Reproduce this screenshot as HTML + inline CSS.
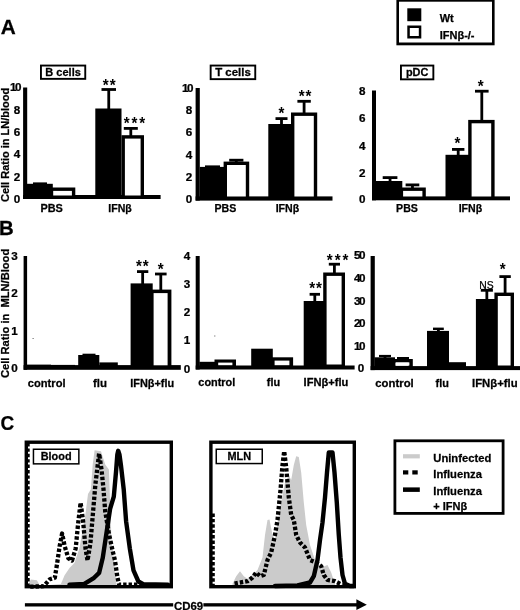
<!DOCTYPE html>
<html><head><meta charset="utf-8"><title>Figure</title>
<style>
html,body{margin:0;padding:0;background:#fff;}
body{width:520px;height:610px;overflow:hidden;}
svg{display:block;font-family:"Liberation Sans", sans-serif;filter:blur(0.45px);}
text{stroke:#000;stroke-width:0.25px;}
text.st{stroke:none;}
</style></head><body>
<svg width="520" height="610" viewBox="0 0 520 610">
<rect x="0" y="0" width="520" height="610" fill="#fff"/>
<text transform="translate(0.70,34.00) scale(1.03,1)" font-size="20.2" font-weight="bold" text-anchor="start" fill="#000">A</text>
<text transform="translate(-1.10,235.00) scale(1.02,1)" font-size="20" font-weight="bold" text-anchor="start" fill="#000">B</text>
<text transform="translate(0.60,430.00) scale(0.94,1)" font-size="20.2" font-weight="bold" text-anchor="start" fill="#000">C</text>
<rect x="396.40" y="-1.00" width="98.20" height="46.30" fill="#000" />
<rect x="399.00" y="1.70" width="93.00" height="40.80" fill="#fff" />
<rect x="407.30" y="8.30" width="14.00" height="12.90" fill="#000" />
<rect x="407.30" y="25.50" width="14.00" height="13.00" fill="#000" />
<rect x="409.80" y="28.00" width="9.00" height="8.00" fill="#fff" />
<text transform="translate(439.70,22.00) scale(1.0,1)" font-size="11" font-weight="bold" text-anchor="start" fill="#000">Wt</text>
<text transform="translate(439.70,39.00) scale(1.0,1)" font-size="11" font-weight="bold" text-anchor="start" fill="#000">IFNβ-/-</text>
<rect x="40.00" y="64.60" width="46.20" height="15.20" fill="#000" />
<rect x="41.90" y="66.50" width="42.40" height="11.40" fill="#fff" />
<text transform="translate(63.10,76.00) scale(1.04,1)" font-size="10.6" font-weight="bold" text-anchor="middle" fill="#000">B cells</text>
<rect x="209.70" y="64.60" width="46.50" height="15.50" fill="#000" />
<rect x="211.60" y="66.50" width="42.70" height="11.70" fill="#fff" />
<text transform="translate(232.95,76.00) scale(1.08,1)" font-size="10.6" font-weight="bold" text-anchor="middle" fill="#000">T cells</text>
<rect x="400.00" y="64.60" width="34.30" height="15.70" fill="#000" />
<rect x="401.90" y="66.50" width="30.50" height="11.90" fill="#fff" />
<text transform="translate(417.15,76.00) scale(1.03,1)" font-size="10.6" font-weight="bold" text-anchor="middle" fill="#000">pDC</text>
<text transform="translate(9.00,202.00) rotate(-90) scale(1.0,1)" font-size="11" font-weight="bold" text-anchor="start" fill="#000">Cell Ratio in LN/blood</text>
<text transform="translate(9.00,378.00) rotate(-90) scale(0.995,1)" font-size="11.2" font-weight="bold" text-anchor="start" fill="#000">Cell Ratio in&#160; MLN/Blood</text>
<rect x="23.10" y="87.50" width="4.10" height="111.50" fill="#000" />
<rect x="23.10" y="195.00" width="137.50" height="4.00" fill="#000" />
<text transform="translate(21.50,91) scale(1.1,1)" font-size="10.6" font-weight="bold" text-anchor="end"><tspan>1</tspan><tspan dx="-1.3">0</tspan></text>
<text transform="translate(20.30,114.00) scale(1.1,1)" font-size="10.6" font-weight="bold" text-anchor="end" fill="#000">8</text>
<text transform="translate(20.30,136.00) scale(1.1,1)" font-size="10.6" font-weight="bold" text-anchor="end" fill="#000">6</text>
<text transform="translate(20.30,158.00) scale(1.1,1)" font-size="10.6" font-weight="bold" text-anchor="end" fill="#000">4</text>
<text transform="translate(20.30,181.00) scale(1.1,1)" font-size="10.6" font-weight="bold" text-anchor="end" fill="#000">2</text>
<text transform="translate(20.30,203.00) scale(1.1,1)" font-size="10.6" font-weight="bold" text-anchor="end" fill="#000">0</text>
<rect x="38.60" y="183.20" width="2.80" height="1.60" fill="#000" />
<rect x="33.00" y="182.40" width="14.00" height="1.60" fill="#000" />
<rect x="27.00" y="183.80" width="25.80" height="13.20" fill="#000" />
<rect x="49.80" y="187.50" width="25.50" height="9.50" fill="#000" />
<rect x="53.20" y="190.90" width="18.70" height="4.60" fill="#fff" />
<rect x="107.35" y="89.50" width="2.80" height="20.00" fill="#000" />
<rect x="101.50" y="88.10" width="14.50" height="2.80" fill="#000" />
<rect x="95.30" y="108.50" width="26.20" height="88.50" fill="#000" />
<rect x="129.40" y="128.40" width="2.80" height="7.80" fill="#000" />
<rect x="123.80" y="127.00" width="14.00" height="2.80" fill="#000" />
<rect x="121.50" y="135.20" width="22.50" height="61.80" fill="#000" />
<rect x="124.90" y="138.60" width="15.70" height="56.90" fill="#fff" />
<text class="st" transform="translate(105.80,91.00) scale(0.95,1)" font-size="16" font-weight="bold" text-anchor="middle" fill="#000">*</text>
<text class="st" transform="translate(112.60,91.00) scale(0.95,1)" font-size="16" font-weight="bold" text-anchor="middle" fill="#000">*</text>
<text class="st" transform="translate(126.60,129.00) scale(0.95,1)" font-size="16" font-weight="bold" text-anchor="middle" fill="#000">*</text>
<text class="st" transform="translate(134.40,129.00) scale(0.95,1)" font-size="16" font-weight="bold" text-anchor="middle" fill="#000">*</text>
<text class="st" transform="translate(142.20,129.00) scale(0.95,1)" font-size="16" font-weight="bold" text-anchor="middle" fill="#000">*</text>
<text transform="translate(51.60,212.00) scale(1.03,1)" font-size="10.6" font-weight="bold" text-anchor="middle" fill="#000">PBS</text>
<text transform="translate(120.00,212.00) scale(1.0,1)" font-size="10.6" font-weight="bold" text-anchor="middle" fill="#000">IFNβ</text>
<rect x="195.60" y="88.00" width="4.20" height="112.60" fill="#000" />
<rect x="195.60" y="196.40" width="136.90" height="4.20" fill="#000" />
<text transform="translate(193.50,92) scale(1.1,1)" font-size="10.6" font-weight="bold" text-anchor="end"><tspan>1</tspan><tspan dx="-1.3">0</tspan></text>
<text transform="translate(192.30,114.00) scale(1.1,1)" font-size="10.6" font-weight="bold" text-anchor="end" fill="#000">8</text>
<text transform="translate(192.30,136.00) scale(1.1,1)" font-size="10.6" font-weight="bold" text-anchor="end" fill="#000">6</text>
<text transform="translate(192.30,159.00) scale(1.1,1)" font-size="10.6" font-weight="bold" text-anchor="end" fill="#000">4</text>
<text transform="translate(192.30,181.00) scale(1.1,1)" font-size="10.6" font-weight="bold" text-anchor="end" fill="#000">2</text>
<text transform="translate(192.30,203.00) scale(1.1,1)" font-size="10.6" font-weight="bold" text-anchor="end" fill="#000">0</text>
<rect x="211.10" y="166.20" width="2.80" height="1.70" fill="#000" />
<rect x="205.00" y="165.40" width="15.00" height="1.60" fill="#000" />
<rect x="199.80" y="166.90" width="26.20" height="31.10" fill="#000" />
<rect x="234.90" y="160.20" width="2.80" height="2.40" fill="#000" />
<rect x="229.20" y="158.80" width="14.20" height="2.80" fill="#000" />
<rect x="223.60" y="161.60" width="25.60" height="36.40" fill="#000" />
<rect x="227.00" y="165.00" width="18.80" height="31.50" fill="#fff" />
<rect x="280.10" y="118.60" width="2.80" height="6.40" fill="#000" />
<rect x="275.50" y="117.20" width="12.00" height="2.80" fill="#000" />
<rect x="268.30" y="124.00" width="25.50" height="74.00" fill="#000" />
<rect x="302.70" y="101.30" width="2.80" height="12.20" fill="#000" />
<rect x="297.40" y="99.90" width="13.40" height="2.80" fill="#000" />
<rect x="291.00" y="112.50" width="26.20" height="85.50" fill="#000" />
<rect x="294.40" y="115.90" width="19.40" height="80.60" fill="#fff" />
<text class="st" transform="translate(281.50,119.00) scale(0.95,1)" font-size="16" font-weight="bold" text-anchor="middle" fill="#000">*</text>
<text class="st" transform="translate(301.60,102.00) scale(0.95,1)" font-size="16" font-weight="bold" text-anchor="middle" fill="#000">*</text>
<text class="st" transform="translate(308.40,102.00) scale(0.95,1)" font-size="16" font-weight="bold" text-anchor="middle" fill="#000">*</text>
<text transform="translate(225.30,212.00) scale(1.0,1)" font-size="10.6" font-weight="bold" text-anchor="middle" fill="#000">PBS</text>
<text transform="translate(287.40,212.00) scale(1.0,1)" font-size="10.6" font-weight="bold" text-anchor="middle" fill="#000">IFNβ</text>
<rect x="372.00" y="90.50" width="4.00" height="109.80" fill="#000" />
<rect x="372.00" y="196.40" width="138.00" height="3.90" fill="#000" />
<text transform="translate(365.50,95.00) scale(1.1,1)" font-size="10.6" font-weight="bold" text-anchor="end" fill="#000">8</text>
<text transform="translate(365.50,122.00) scale(1.1,1)" font-size="10.6" font-weight="bold" text-anchor="end" fill="#000">6</text>
<text transform="translate(365.50,150.00) scale(1.1,1)" font-size="10.6" font-weight="bold" text-anchor="end" fill="#000">4</text>
<text transform="translate(365.50,177.00) scale(1.1,1)" font-size="10.6" font-weight="bold" text-anchor="end" fill="#000">2</text>
<text transform="translate(365.50,203.00) scale(1.1,1)" font-size="10.6" font-weight="bold" text-anchor="end" fill="#000">0</text>
<rect x="388.65" y="177.60" width="2.80" height="4.40" fill="#000" />
<rect x="382.70" y="176.20" width="14.70" height="2.80" fill="#000" />
<rect x="376.00" y="181.00" width="26.30" height="17.00" fill="#000" />
<rect x="411.05" y="184.90" width="2.80" height="3.60" fill="#000" />
<rect x="405.60" y="183.50" width="13.70" height="2.80" fill="#000" />
<rect x="399.70" y="187.50" width="26.10" height="10.50" fill="#000" />
<rect x="403.10" y="190.90" width="19.30" height="5.60" fill="#fff" />
<rect x="456.80" y="149.40" width="2.80" height="6.40" fill="#000" />
<rect x="452.00" y="148.00" width="12.40" height="2.80" fill="#000" />
<rect x="445.50" y="154.80" width="24.80" height="43.20" fill="#000" />
<rect x="480.40" y="91.20" width="2.80" height="29.70" fill="#000" />
<rect x="475.00" y="89.80" width="13.60" height="2.80" fill="#000" />
<rect x="468.20" y="119.90" width="26.40" height="78.10" fill="#000" />
<rect x="471.60" y="123.30" width="19.60" height="73.20" fill="#fff" />
<text class="st" transform="translate(457.40,149.00) scale(0.95,1)" font-size="16" font-weight="bold" text-anchor="middle" fill="#000">*</text>
<text class="st" transform="translate(480.80,92.00) scale(0.95,1)" font-size="16" font-weight="bold" text-anchor="middle" fill="#000">*</text>
<text transform="translate(407.00,212.00) scale(1.0,1)" font-size="10.6" font-weight="bold" text-anchor="middle" fill="#000">PBS</text>
<text transform="translate(470.40,212.00) scale(1.0,1)" font-size="10.6" font-weight="bold" text-anchor="middle" fill="#000">IFNβ</text>
<rect x="23.60" y="256.00" width="3.50" height="113.80" fill="#000" />
<rect x="23.60" y="365.10" width="157.20" height="4.70" fill="#000" />
<text transform="translate(17.80,260.00) scale(1.1,1)" font-size="10.6" font-weight="bold" text-anchor="end" fill="#000">3</text>
<text transform="translate(17.80,297.00) scale(1.1,1)" font-size="10.6" font-weight="bold" text-anchor="end" fill="#000">2</text>
<text transform="translate(17.80,335.00) scale(1.1,1)" font-size="10.6" font-weight="bold" text-anchor="end" fill="#000">1</text>
<text transform="translate(17.80,372.00) scale(1.1,1)" font-size="10.6" font-weight="bold" text-anchor="end" fill="#000">0</text>
<rect x="27.00" y="364.60" width="24.00" height="1.40" fill="#000" />
<rect x="51.00" y="364.90" width="24.00" height="1.10" fill="#000" />
<rect x="87.60" y="354.40" width="2.80" height="1.60" fill="#000" />
<rect x="82.50" y="353.70" width="13.00" height="1.40" fill="#000" />
<rect x="78.20" y="355.00" width="21.10" height="11.00" fill="#000" />
<rect x="99.30" y="362.40" width="18.50" height="3.60" fill="#000" />
<rect x="141.25" y="271.60" width="2.80" height="12.80" fill="#000" />
<rect x="137.00" y="270.20" width="11.30" height="2.80" fill="#000" />
<rect x="130.60" y="283.40" width="22.10" height="82.60" fill="#000" />
<rect x="159.40" y="274.00" width="2.80" height="16.60" fill="#000" />
<rect x="155.00" y="272.60" width="11.60" height="2.80" fill="#000" />
<rect x="150.80" y="289.60" width="20.60" height="76.40" fill="#000" />
<rect x="153.60" y="293.10" width="14.00" height="72.20" fill="#fff" />
<text class="st" transform="translate(139.00,272.00) scale(0.95,1)" font-size="16" font-weight="bold" text-anchor="middle" fill="#000">*</text>
<text class="st" transform="translate(145.80,272.00) scale(0.95,1)" font-size="16" font-weight="bold" text-anchor="middle" fill="#000">*</text>
<text class="st" transform="translate(160.70,275.00) scale(0.95,1)" font-size="16" font-weight="bold" text-anchor="middle" fill="#000">*</text>
<rect x="32.60" y="338.00" width="1.00" height="1.00" fill="#555" />
<text transform="translate(46.70,387.00) scale(1.05,1)" font-size="10.6" font-weight="bold" text-anchor="middle" fill="#000">control</text>
<text transform="translate(99.90,387.00) scale(1.08,1)" font-size="10.6" font-weight="bold" text-anchor="middle" fill="#000">flu</text>
<text transform="translate(152.20,387.00) scale(1.03,1)" font-size="10.6" font-weight="bold" text-anchor="middle" fill="#000">IFNβ+flu</text>
<rect x="195.70" y="256.00" width="4.00" height="113.50" fill="#000" />
<rect x="195.70" y="365.50" width="158.90" height="4.00" fill="#000" />
<text transform="translate(190.20,260.00) scale(1.1,1)" font-size="10.6" font-weight="bold" text-anchor="end" fill="#000">4</text>
<text transform="translate(190.20,288.00) scale(1.1,1)" font-size="10.6" font-weight="bold" text-anchor="end" fill="#000">3</text>
<text transform="translate(190.20,316.00) scale(1.1,1)" font-size="10.6" font-weight="bold" text-anchor="end" fill="#000">2</text>
<text transform="translate(190.20,344.00) scale(1.1,1)" font-size="10.6" font-weight="bold" text-anchor="end" fill="#000">1</text>
<text transform="translate(190.20,373.00) scale(1.1,1)" font-size="10.6" font-weight="bold" text-anchor="end" fill="#000">0</text>
<rect x="199.30" y="361.80" width="18.30" height="4.20" fill="#000" />
<rect x="214.50" y="359.50" width="21.50" height="6.50" fill="#000" />
<rect x="218.20" y="362.60" width="14.20" height="2.60" fill="#fff" />
<rect x="251.20" y="348.70" width="21.60" height="17.30" fill="#000" />
<rect x="271.90" y="357.30" width="21.20" height="8.70" fill="#000" />
<rect x="274.60" y="360.60" width="14.80" height="4.60" fill="#fff" />
<rect x="313.40" y="294.30" width="2.80" height="7.70" fill="#000" />
<rect x="309.60" y="292.90" width="10.40" height="2.80" fill="#000" />
<rect x="303.70" y="301.00" width="20.60" height="65.00" fill="#000" />
<rect x="333.00" y="264.20" width="2.80" height="9.30" fill="#000" />
<rect x="328.80" y="262.80" width="11.20" height="2.80" fill="#000" />
<rect x="323.20" y="272.50" width="21.80" height="93.50" fill="#000" />
<rect x="326.60" y="275.90" width="15.00" height="88.60" fill="#fff" />
<text class="st" transform="translate(312.10,294.00) scale(0.95,1)" font-size="16" font-weight="bold" text-anchor="middle" fill="#000">*</text>
<text class="st" transform="translate(318.90,294.00) scale(0.95,1)" font-size="16" font-weight="bold" text-anchor="middle" fill="#000">*</text>
<text class="st" transform="translate(329.80,266.00) scale(0.95,1)" font-size="16" font-weight="bold" text-anchor="middle" fill="#000">*</text>
<text class="st" transform="translate(337.60,266.00) scale(0.95,1)" font-size="16" font-weight="bold" text-anchor="middle" fill="#000">*</text>
<text class="st" transform="translate(345.40,266.00) scale(0.95,1)" font-size="16" font-weight="bold" text-anchor="middle" fill="#000">*</text>
<rect x="214.30" y="335.50" width="1.00" height="1.00" fill="#555" />
<text transform="translate(216.80,386.00) scale(1.03,1)" font-size="10.6" font-weight="bold" text-anchor="middle" fill="#000">control</text>
<text transform="translate(273.50,386.00) scale(1.03,1)" font-size="10.6" font-weight="bold" text-anchor="middle" fill="#000">flu</text>
<text transform="translate(326.00,386.00) scale(1.05,1)" font-size="10.6" font-weight="bold" text-anchor="middle" fill="#000">IFNβ+flu</text>
<rect x="370.60" y="256.00" width="4.20" height="114.10" fill="#000" />
<rect x="370.60" y="366.10" width="149.40" height="4.00" fill="#000" />
<text transform="translate(365.40,259) scale(1.1,1)" font-size="10.6" font-weight="bold" text-anchor="end"><tspan>5</tspan><tspan dx="-1.3">0</tspan></text>
<text transform="translate(365.40,282) scale(1.1,1)" font-size="10.6" font-weight="bold" text-anchor="end"><tspan>4</tspan><tspan dx="-1.3">0</tspan></text>
<text transform="translate(365.40,305) scale(1.1,1)" font-size="10.6" font-weight="bold" text-anchor="end"><tspan>3</tspan><tspan dx="-1.3">0</tspan></text>
<text transform="translate(365.40,327) scale(1.1,1)" font-size="10.6" font-weight="bold" text-anchor="end"><tspan>2</tspan><tspan dx="-1.3">0</tspan></text>
<text transform="translate(365.40,350) scale(1.1,1)" font-size="10.6" font-weight="bold" text-anchor="end"><tspan>1</tspan><tspan dx="-1.3">0</tspan></text>
<text transform="translate(364.20,372.00) scale(1.1,1)" font-size="10.6" font-weight="bold" text-anchor="end" fill="#000">0</text>
<rect x="383.60" y="356.00" width="2.80" height="2.30" fill="#000" />
<rect x="379.00" y="354.90" width="12.00" height="2.20" fill="#000" />
<rect x="374.50" y="357.30" width="20.50" height="9.70" fill="#000" />
<rect x="401.60" y="358.00" width="2.80" height="2.00" fill="#000" />
<rect x="397.00" y="357.00" width="12.00" height="2.00" fill="#000" />
<rect x="392.40" y="359.00" width="20.40" height="8.00" fill="#000" />
<rect x="395.80" y="362.40" width="13.60" height="3.10" fill="#fff" />
<rect x="395.50" y="362.60" width="13.10" height="3.20" fill="#fff" />
<rect x="437.00" y="328.80" width="2.80" height="3.10" fill="#000" />
<rect x="433.00" y="327.60" width="10.80" height="2.40" fill="#000" />
<rect x="427.00" y="330.90" width="22.00" height="36.10" fill="#000" />
<rect x="448.70" y="362.20" width="17.30" height="4.80" fill="#000" />
<rect x="485.45" y="290.30" width="2.80" height="9.70" fill="#000" />
<rect x="480.80" y="288.90" width="12.10" height="2.80" fill="#000" />
<rect x="475.90" y="299.00" width="20.60" height="68.00" fill="#000" />
<rect x="503.70" y="276.60" width="2.80" height="17.00" fill="#000" />
<rect x="499.40" y="275.20" width="11.40" height="2.80" fill="#000" />
<rect x="494.40" y="292.60" width="19.60" height="74.40" fill="#000" />
<rect x="497.80" y="296.00" width="12.80" height="69.50" fill="#fff" />
<text transform="translate(486.40,289.00) scale(0.9,1)" font-size="11.5" font-weight="normal" text-anchor="middle" fill="#000">NS</text>
<text class="st" transform="translate(502.70,275.00) scale(0.95,1)" font-size="16" font-weight="bold" text-anchor="middle" fill="#000">*</text>
<text transform="translate(394.50,387.00) scale(1.07,1)" font-size="10.6" font-weight="bold" text-anchor="middle" fill="#000">control</text>
<text transform="translate(442.20,387.00) scale(1.03,1)" font-size="10.6" font-weight="bold" text-anchor="middle" fill="#000">flu</text>
<text transform="translate(494.80,387.00) scale(1.07,1)" font-size="10.6" font-weight="bold" text-anchor="middle" fill="#000">IFNβ+flu</text>
<path d="M27.7,585.8 L30.8,579.6 L36.9,580.2 L40.0,585.8 L60.9,583.9 L64.6,575.3 L69.5,568.0 L74.4,563.0 L79.4,548.3 L85.5,513.8 L88.0,494.1 L90.9,489.2 L92.7,464.6 L94.6,450.3 L101.0,451.3 L105.2,464.6 L108.9,469.5 L110.1,501.5 L111.4,538.4 L113.8,558.1 L116.3,583.9 L116.3,585.9 L27.7,585.9 Z" fill="#cbcbcb"/>
<path d="M30.2,586.7 L43.7,586.2 L49.8,579.3 L54.8,577.8 L57.2,563.0 L59.7,545.8 L62.1,533.5 L64.6,545.8 L68.3,558.1 L72.0,560.6 L75.7,548.3 L78.1,523.7 L80.6,502.7 L83.1,521.2 L85.5,548.3 L87.5,560.6 L90.4,543.3 L92.9,513.8 L95.4,484.3 L99.1,453.5 L101.5,469.5 L103.5,489.2 L105.2,511.4 L108.9,533.5 L112.6,550.7 L115.0,560.6 L117.5,577.8 L119.2,584.7 L143.3,584.7" fill="none" stroke="#000" stroke-width="4.3" stroke-dasharray="3.4 2.0" stroke-linejoin="round"/>
<path d="M69.5,584.7 L84.3,583.9 L94.1,577.8 L99.1,572.9 L102.7,558.1 L106.4,533.5 L110.1,508.9 L113.8,496.6 L116.0,472.0 L117.3,454.8 L118.2,450.8 L119.5,454.8 L121.0,465.8 L123.7,489.2 L126.1,521.2 L129.8,548.3 L133.5,570.4 L138.4,581.5 L143.3,584.2 L168.0,584.7" fill="none" stroke="#000" stroke-width="4.4" stroke-linejoin="round" stroke-linecap="round"/>
<path d="M27.5,443 L27.5,586" fill="none" stroke="#000" stroke-width="4.4" stroke-dasharray="3.4 2.0"/>
<rect x="26.3" y="442.2" width="145.0" height="144.49999999999997" fill="none" stroke="#000" stroke-width="3.4"/>
<rect x="32.70" y="448.50" width="46.90" height="16.10" fill="#000" />
<rect x="34.20" y="450.00" width="43.90" height="13.10" fill="#fff" />
<text transform="translate(56.15,460.00) scale(1.03,1)" font-size="10.6" font-weight="bold" text-anchor="middle" fill="#000">Blood</text>
<path d="M232.5,583.8 L236.2,576.2 L240.0,571.2 L243.8,576.2 L247.5,578.8 L252.5,575.0 L257.5,570.0 L262.5,557.5 L265.0,535.0 L267.5,520.0 L269.5,519.5 L272.5,535.0 L275.0,540.0 L278.8,515.0 L285.0,482.5 L288.8,475.0 L291.2,480.0 L293.8,465.0 L296.2,456.2 L298.8,457.0 L301.2,472.5 L303.8,502.5 L306.2,525.0 L310.0,545.0 L315.0,560.0 L321.2,567.5 L327.5,565.0 L331.2,572.5 L335.0,584.5 L335.0,585.9 L232.5,585.9 Z" fill="#cbcbcb"/>
<path d="M234.5,583.5 L247.5,581.2 L252.5,577.5 L256.2,572.5 L260.0,576.2 L263.8,575.0 L267.5,560.0 L271.2,552.5 L275.0,535.0 L277.5,520.0 L280.5,490.0 L282.5,465.0 L284.2,451.2 L286.2,467.5 L288.8,497.5 L291.2,515.0 L293.8,520.0 L296.2,535.0 L300.0,542.5 L305.0,547.5 L310.0,560.0 L316.2,562.5 L321.2,566.2 L323.8,575.0 L327.5,580.0 L335.0,581.2 L342.5,585.0" fill="none" stroke="#000" stroke-width="4.3" stroke-dasharray="3.4 2.0" stroke-linejoin="round"/>
<path d="M275.0,586.0 L297.5,585.5 L310.0,582.5 L313.8,576.2 L317.5,560.0 L320.0,540.0 L322.5,522.5 L325.0,497.5 L327.0,472.5 L328.8,452.5 L332.5,452.5 L334.5,472.5 L336.8,502.5 L338.8,535.0 L340.5,557.5 L342.5,575.0 L345.0,583.8 L350.0,586.0 L353.8,586.0" fill="none" stroke="#000" stroke-width="4.4" stroke-linejoin="round" stroke-linecap="round"/>
<path d="M212.6,513.5 L212.6,586" fill="none" stroke="#000" stroke-width="4.4" stroke-dasharray="3.4 2.0"/>
<rect x="210.89999999999998" y="442.2" width="143.4" height="144.49999999999997" fill="none" stroke="#000" stroke-width="3.4"/>
<rect x="215.50" y="448.50" width="47.50" height="15.80" fill="#000" />
<rect x="217.00" y="450.00" width="44.50" height="12.80" fill="#fff" />
<text transform="translate(239.25,460.00) scale(1.03,1)" font-size="10.6" font-weight="bold" text-anchor="middle" fill="#000">MLN</text>
<rect x="24.90" y="603.20" width="148.30" height="3.30" fill="#000" />
<rect x="203.40" y="603.20" width="154.60" height="3.30" fill="#000" />
<path d="M356.4,599.3 L366.8,604.7 L356.4,610 Z" fill="#000"/>
<text transform="translate(188.50,610.00) scale(1.04,1)" font-size="11" font-weight="bold" text-anchor="middle" fill="#000">CD69</text>
<rect x="394.9" y="440.8" width="108.2" height="72.6" fill="#fff" stroke="#000" stroke-width="2.8"/>
<rect x="403.00" y="454.20" width="16.80" height="4.20" fill="#cbcbcb" />
<rect x="403.00" y="470.30" width="5.30" height="4.20" fill="#000" />
<rect x="412.30" y="470.30" width="5.40" height="4.20" fill="#000" />
<rect x="403.00" y="487.40" width="16.80" height="4.50" fill="#000" />
<text transform="translate(433.30,462.00) scale(1.02,1)" font-size="11" font-weight="bold" text-anchor="start" fill="#000">Uninfected</text>
<text transform="translate(433.30,478.00) scale(1.02,1)" font-size="11" font-weight="bold" text-anchor="start" fill="#000">Influenza</text>
<text transform="translate(433.30,495.00) scale(1.02,1)" font-size="11" font-weight="bold" text-anchor="start" fill="#000">Influenza</text>
<text transform="translate(433.30,510.00) scale(1.0,1)" font-size="11" font-weight="bold" text-anchor="start" fill="#000">+ IFNβ</text>
</svg>
</body></html>
